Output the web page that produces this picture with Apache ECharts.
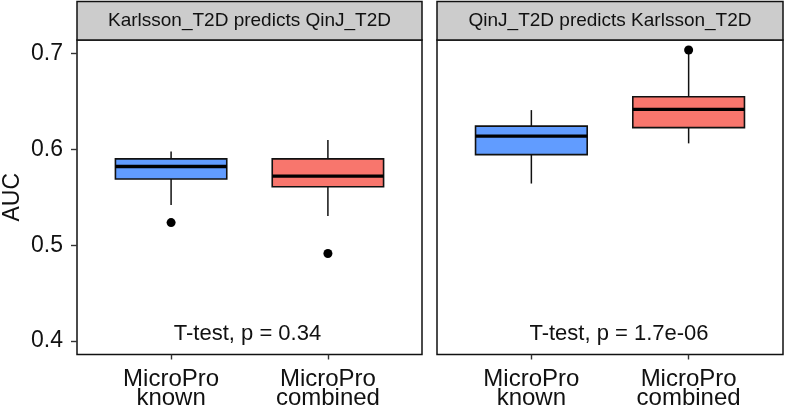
<!DOCTYPE html>
<html><head><meta charset="utf-8">
<script src="https://cdn.jsdelivr.net/npm/echarts@6/dist/echarts.min.js"></script>
<style>html,body{margin:0;padding:0;background:#fff}#c{width:787px;height:414px}</style>
</head><body><div id="c"></div>
<script>
const categories = ['MicroPro\nknown', 'MicroPro\ncombined'];
const panelTitles = ['Karlsson_T2D predicts QinJ_T2D', 'QinJ_T2D predicts Karlsson_T2D'];
const pLabels = ['T-test, p = 0.34', 'T-test, p = 1.7e-06'];
const yTicks = [0.4, 0.5, 0.6, 0.7];
// [lowWhisker, Q1, median, Q3, highWhisker]
const leftKnown = [0.542, 0.569, 0.582, 0.590, 0.5976];
const leftCombined = [0.5305, 0.561, 0.572, 0.590, 0.6097];
const rightKnown = [0.5643, 0.5945, 0.6138, 0.6242, 0.6409];
const rightCombined = [0.6062, 0.6226, 0.6416, 0.6548, 0.7025];
const leftOutliers = [[1, 0.5236], [2, 0.4913]];
const rightOutliers = [[2, 0.7036]];

const colors = ['#619CFF', '#F8766D'];
const FONT = 'Liberation Sans, Arial, sans-serif';
const TXT = '#111';
const grids = [{left: 77, top: 40, width: 345, height: 314.5}, {left: 437, top: 40, width: 346, height: 314.5}];

function renderBox(params, api) {
  const x = api.value(0);
  const lo = api.value(1), q1 = api.value(2), md = api.value(3), q3 = api.value(4), hi = api.value(5);
  const ci = api.value(6);
  const hw = 0.355;
  const tl = api.coord([x - hw, q3]);
  const br = api.coord([x + hw, q1]);
  const c = api.coord([x, md]);
  const pHi = api.coord([x, hi]);
  const pLo = api.coord([x, lo]);
  const pMdL = api.coord([x - hw, md]);
  const pMdR = api.coord([x + hw, md]);
  const lineStyle = {stroke: '#111', lineWidth: 1.5};
  return {
    type: 'group',
    children: [
      {type: 'line', shape: {x1: pHi[0], y1: pHi[1], x2: pHi[0], y2: tl[1]}, style: lineStyle},
      {type: 'line', shape: {x1: pLo[0], y1: br[1], x2: pLo[0], y2: pLo[1]}, style: lineStyle},
      {type: 'rect', shape: {x: tl[0], y: tl[1], width: br[0] - tl[0], height: br[1] - tl[1]},
        style: {fill: colors[ci], stroke: '#111', lineWidth: 1.6}},
      {type: 'line', shape: {x1: pMdL[0], y1: c[1], x2: pMdR[0], y2: c[1]}, style: {stroke: '#000', lineWidth: 3.4}}
    ]
  };
}

const chart = echarts.init(document.getElementById('c'), null, {renderer: 'canvas'});
const xAxes = grids.map((g, i) => ({
  type: 'value', gridIndex: i, min: 0.4, max: 2.6,
  splitLine: {show: false},
  axisLine: {show: false},
  axisTick: {show: true, length: 5, customValues: [1, 2], lineStyle: {color: '#333', width: 1.4}},
  axisLabel: {customValues: [1, 2], formatter: v => categories[Math.round(v) - 1] || '',
    color: TXT, fontSize: 24, fontFamily: FONT, lineHeight: 19.5, margin: 15}
}));
const yAxes = grids.map((g, i) => ({
  type: 'value', gridIndex: i, min: 0.386, max: 0.714,
  name: i === 0 ? 'AUC' : '', nameLocation: 'middle', nameGap: 53, nameRotate: 90,
  nameTextStyle: {fontSize: 23, fontFamily: FONT, color: TXT},
  splitLine: {show: false},
  axisLine: {show: false},
  axisTick: {show: i === 0, length: 6, customValues: yTicks, lineStyle: {color: '#333', width: 1.4}},
  axisLabel: {show: i === 0, customValues: yTicks, formatter: v => v.toFixed(1),
    color: TXT, fontSize: 23, fontFamily: FONT, margin: 14}
}));

const boxData = [
  [[1, ...leftKnown, 0], [2, ...leftCombined, 1]],
  [[1, ...rightKnown, 0], [2, ...rightCombined, 1]]
];
const outliers = [leftOutliers, rightOutliers];
const series = [];
[0, 1].forEach(i => {
  series.push({type: 'custom', xAxisIndex: i, yAxisIndex: i, renderItem: renderBox,
    encode: {x: 0, y: [1, 2, 3, 4, 5]}, data: boxData[i], silent: true, z: 2});
  series.push({type: 'scatter', xAxisIndex: i, yAxisIndex: i, data: outliers[i], symbolSize: 9,
    itemStyle: {color: '#000', opacity: 1}, silent: true, z: 3});
});

const graphic = [];
grids.forEach((g, i) => {
  graphic.push({type: 'rect', shape: {x: g.left, y: 1.5, width: g.width, height: 38.5},
    style: {fill: '#cccccc', stroke: '#111', lineWidth: 1.5}, z: 10});
  graphic.push({type: 'text', x: g.left + g.width / 2, y: 21,
    style: {text: panelTitles[i], fill: TXT, font: '19px ' + FONT, textAlign: 'center', textVerticalAlign: 'middle'}, z: 11});
});
graphic.push({type: 'text', x: 247.5, y: 333.5,
  style: {text: pLabels[0], fill: TXT, font: '22px ' + FONT, textAlign: 'center', textVerticalAlign: 'middle'}, z: 11});
graphic.push({type: 'text', x: 619, y: 333.5,
  style: {text: pLabels[1], fill: TXT, font: '22px ' + FONT, textAlign: 'center', textVerticalAlign: 'middle'}, z: 11});

chart.setOption({
  animation: false,
  backgroundColor: '#fff',
  grid: grids.map(g => Object.assign({show: true, borderColor: '#111', borderWidth: 1.5, backgroundColor: 'transparent',
    containLabel: false, outerBoundsMode: 'none'}, g)),
  xAxis: xAxes,
  yAxis: yAxes,
  series: series,
  graphic: graphic
});
</script></body></html>
